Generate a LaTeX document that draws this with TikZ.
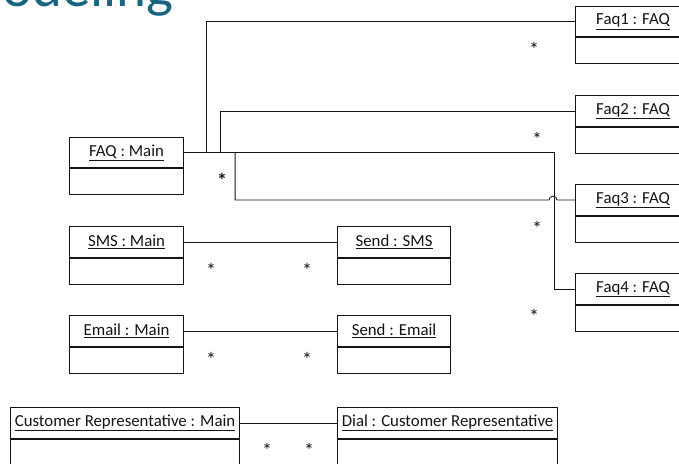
\documentclass[tikz,border=0pt]{standalone}
\usepackage{fontspec}
\setmainfont{Carlito}
\definecolor{titleteal}{RGB}{23,101,128}
\definecolor{inkline}{RGB}{20,20,20}
\tikzset{
  objhead/.style={draw=inkline, line width=1.1pt, anchor=north west, inner sep=0pt,
    minimum height=31pt, font=\fontsize{16.8pt}{18pt}\selectfont, text=inkline},
  objbody/.style={draw=inkline, line width=1.1pt, anchor=north west, inner sep=0pt},
  link/.style={draw=inkline, line width=0.8pt},
  mult/.style={inner sep=0pt, font=\fontsize{20pt}{22pt}\selectfont, text=inkline},
}
% an object box: header with underlined name, empty compartment below
\newcommand{\objbox}[7]{% name, x, y, width, header height, body height, label
  \node[objhead, minimum width=#4pt, minimum height=#5pt] (#1) at (#2,#3) {\underline{#7}};
  \node[objbody, minimum width=#4pt, minimum height=#6pt] (#1b) at (#1.south west) {};
}
\begin{document}
\begin{tikzpicture}[x=1pt, y=-1pt]
  \clip (0,0) rectangle (679,463);
  \fill[white] (0,0) rectangle (679,463);

  % slide title, cut by the top edge
  \node[anchor=base east, inner sep=0pt, text=titleteal,
        font=\fontsize{57pt}{60pt}\selectfont] (title) at (174,6) {Modeling};

  % objects
  \objbox{faqmain}{69}{137}{114}{30}{26}{FAQ : Main}
  \objbox{smsmain}{69}{226}{114}{31}{26}{SMS : Main}
  \objbox{emailmain}{69}{315}{114}{31}{26}{Email : Main}
  \objbox{custmain}{10}{407}{229}{31}{32}{Customer Representative : Main}
  \objbox{sendsms}{337}{226}{113}{31}{26}{Send : SMS}
  \objbox{sendemail}{337}{315}{113}{31}{26}{Send : Email}
  \objbox{dial}{337}{407}{220}{31}{32}{Dial : Customer Representative}
  \objbox{faqa}{575}{6}{115}{30}{26}{Faq1 : FAQ}
  \objbox{faqb}{575}{95}{115}{31}{26}{Faq2 : FAQ}
  \objbox{faqc}{575}{184}{115}{31}{26}{Faq3 : FAQ}
  \objbox{faqd}{575}{273}{115}{31}{26}{Faq4 : FAQ}

  % links from FAQ : Main to the four FAQ objects
  \draw[link] (faqmain.east) -- ++(22,0) |- (faqa.west);
  \draw[link] (faqmain.east) ++(36,0) |- (faqb.west);
  \draw[link] (faqmain.east) -- ++(370,0) |- (faqd.west);
  \draw[link] (faqmain.east) ++(51,0) |- ([xshift=-26pt]faqc.west)
     arc[start angle=180, end angle=0, radius=4pt] -- (faqc.west);

  % other links
  \draw[link] (smsmain.east) -- (sendsms.west);
  \draw[link] (emailmain.east) -- (sendemail.west);
  \draw[link] (custmain.east) -- (dial.west);

  % multiplicities
  \node[mult, font=\bfseries\fontsize{20pt}{22pt}\selectfont] (mfaq) at (222,180) {*};
  \node[mult] (ma) at (534,49) {*};
  \node[mult] (mb) at (537,139) {*};
  \node[mult] (mc) at (537,228) {*};
  \node[mult] (md) at (534,316) {*};
  \node[mult] (msa) at (211,270) {*};
  \node[mult] (msb) at (307,270) {*};
  \node[mult] (mea) at (211,359) {*};
  \node[mult] (meb) at (307,359) {*};
  \node[mult] (mca) at (267,450) {*};
  \node[mult] (mcb) at (309,450) {*};
\end{tikzpicture}
\end{document}
